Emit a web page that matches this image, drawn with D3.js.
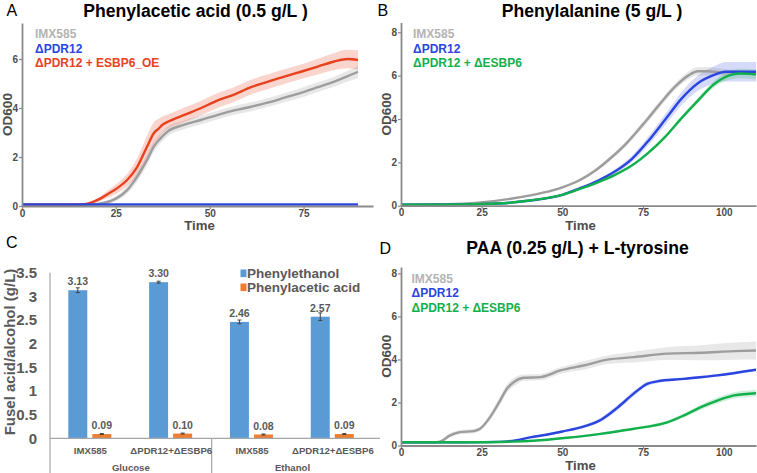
<!DOCTYPE html>
<html><head><meta charset="utf-8">
<script src="https://cdn.jsdelivr.net/npm/d3@7"></script>
<style>
body{margin:0;background:#fff}
svg{display:block}
text{font-family:"Liberation Sans",Arial,Helvetica,sans-serif}
</style>
</head><body>
<svg id="chart" width="757" height="473"></svg>
<script>
// ---------- Panel A: Phenylacetic acid (0.5 g/L) ----------
const aTimeIMX = [0,10,18,21,25,28,30.7,33.3,35.1,36.9,38.7,43.1,47.6,52,56.5,61,65.4,69.9,74.3,78.8,83.2,86.8,89.5];
const aIMX     = [0.05,0.05,0.06,0.1,0.3,0.65,1.2,1.88,2.42,2.76,3.03,3.31,3.51,3.71,3.9,4.05,4.22,4.42,4.62,4.85,5.08,5.3,5.48];
const aIMXsd   = [0.03,0.03,0.03,0.05,0.1,0.15,0.2,0.22,0.22,0.2,0.2,0.18,0.18,0.18,0.18,0.18,0.18,0.18,0.2,0.2,0.2,0.22,0.25];
const aTimePDR = [0,30,60,89.5];
const aPDR     = [0.06,0.06,0.06,0.06];
const aPDRsd   = [0.02,0.02,0.02,0.02];
const aTimeOE  = [0,10,16,18,21,23,25.3,28,30.7,33.3,35.1,36.5,37.3,39,43.1,47.6,52,56.5,61,65.4,69.9,74.3,78.8,83.2,86.8,89.5];
const aOE      = [0.05,0.05,0.06,0.12,0.31,0.5,0.72,1.06,1.6,2.42,2.97,3.17,3.3,3.45,3.71,3.99,4.3,4.55,4.85,5.07,5.28,5.48,5.69,5.9,6.0,5.96];
const aOEsd    = [0.03,0.03,0.03,0.05,0.1,0.15,0.2,0.25,0.35,0.45,0.45,0.4,0.35,0.3,0.3,0.3,0.3,0.3,0.3,0.3,0.3,0.3,0.32,0.35,0.38,0.4];

// ---------- Panel B: Phenylalanine (5 g/L) ----------
const bTimeIMX = [0,14,24,34,44,50,55,60,65,70,75,80,85,89,92,95,100,105,110];
const bIMX     = [0.05,0.07,0.14,0.32,0.6,0.85,1.15,1.6,2.2,2.9,3.75,4.65,5.5,6.0,6.2,6.2,6.15,6.15,6.12];
const bIMXsd   = [0.02,0.02,0.03,0.04,0.05,0.06,0.07,0.08,0.1,0.12,0.14,0.15,0.15,0.18,0.2,0.2,0.15,0.1,0.1];
const bTimePDR = [0,20,30,40,50,55,61,66,71.5,76.7,82,87,92,97,100.5,104,110];
const bPDR     = [0.05,0.06,0.1,0.24,0.5,0.78,1.15,1.55,2.15,3.0,4.0,4.95,5.65,6.03,6.18,6.18,6.18];
const bPDRsd   = [0.02,0.02,0.02,0.03,0.04,0.05,0.07,0.1,0.15,0.2,0.25,0.3,0.35,0.4,0.45,0.45,0.45];
const bTimeDKO = [0,20,30,40,50,55,61,66,71.5,76.7,82,87,92,97,101.5,105,108,110];
const bDKO     = [0.05,0.06,0.1,0.24,0.5,0.75,1.08,1.4,1.85,2.45,3.2,4.05,4.85,5.6,6.0,6.1,6.08,6.05];
const bDKOsd   = [0.02,0.02,0.02,0.03,0.04,0.04,0.05,0.05,0.06,0.07,0.08,0.1,0.12,0.15,0.2,0.22,0.22,0.22];

// ---------- Panel C: fusel acid / alcohol ----------
const cCategories = ["IMX585","ΔPDR12+ΔESBP6","IMX585","ΔPDR12+ΔESBP6"];
const cGroups     = ["Glucose","Ethanol"];
const cSeries     = ["Phenylethanol","Phenylacetic acid"];
const cPhenylethanol    = [3.13,3.30,2.46,2.57];
const cPhenylethanolErr = [0.05,0.02,0.04,0.08];
const cPAA              = [0.09,0.10,0.08,0.09];
const cPAAErr           = [0.01,0.01,0.01,0.01];
const cTickLabels = ["0","0.5","1","1.5","2","2.5","3","3.5"];

// ---------- Panel D: PAA (0.25 g/L) + L-tyrosine ----------
const dTimeIMX = [0,10,12.1,15.2,18.3,22.5,24.5,27.6,30.7,32.8,34.9,38,43.2,49.4,56.6,63.9,72.2,82.5,92.9,103.2,110];
const dIMX     = [0.15,0.15,0.18,0.47,0.62,0.67,0.78,1.32,2.09,2.64,2.94,3.15,3.18,3.49,3.72,3.99,4.11,4.27,4.31,4.39,4.42];
const dIMXsd   = [0.03,0.03,0.05,0.1,0.1,0.1,0.1,0.15,0.2,0.2,0.2,0.15,0.15,0.15,0.2,0.2,0.25,0.3,0.35,0.4,0.42];
const dTimePDR = [0,20,30.7,35.9,40,45,50,57,62,67,72,76.3,79.4,87.7,98,110];
const dPDR     = [0.15,0.15,0.17,0.25,0.38,0.5,0.65,0.9,1.2,1.75,2.4,2.87,2.98,3.1,3.26,3.52];
const dPDRsd   = [0.02,0.02,0.03,0.04,0.05,0.05,0.06,0.08,0.1,0.12,0.12,0.1,0.08,0.06,0.06,0.06];
const dTimeDKO = [0,20,35,41,51.5,61.8,72.2,77.3,82.5,87.7,92.9,98,103.2,110];
const dDKO     = [0.15,0.15,0.18,0.22,0.36,0.54,0.78,0.9,1.08,1.4,1.78,2.09,2.33,2.43];
const dDKOsd   = [0.02,0.02,0.03,0.03,0.04,0.05,0.06,0.07,0.08,0.1,0.12,0.14,0.15,0.15];

const xTicksA = [0,25,50,75];
const xTicksBD = [0,25,50,75,100];
const yTicksA = [0,2,4,6];
const yTicksBD = [0,2,4,6,8];

// ---------- styling ----------
const COL = {gray:"#9d9d9d", grayText:"#b4b4b4", blue:"#2b45df", red:"#e8411e", green:"#12b04c"};
const axisCol = "#8a8a8a";
const svg = d3.select("#chart");

function zip(t, v, sd){ return t.map((d,i)=>({t:d, v:v[i], sd:sd[i]})); }

function linePanel(o){
  const g = svg.append("g");
  const x = d3.scaleLinear().domain(o.xDomain).range(o.xRange);
  const y = d3.scaleLinear().domain(o.yDomain).range(o.yRange);
  o.series.forEach(s=>{
    const data = zip(s.t, s.v, s.sd);
    g.append("path").datum(data)
      .attr("fill", s.band).attr("fill-opacity", s.bandOpacity)
      .attr("d", d3.area().x(d=>x(d.t)).y0(d=>y(Math.max(0,d.v-d.sd))).y1(d=>y(d.v+d.sd)).curve(d3.curveMonotoneX));
  });
  o.series.forEach(s=>{
    const data = zip(s.t, s.v, s.sd);
    g.append("path").datum(data)
      .attr("fill","none").attr("stroke", s.color).attr("stroke-width",2.4)
      .attr("stroke-linejoin","round")
      .attr("d", d3.line().x(d=>x(d.t)).y(d=>y(d.v)).curve(d3.curveMonotoneX));
  });
  const yAx = g.append("g").attr("transform",`translate(${o.xRange[0]},0)`)
    .call(d3.axisLeft(y).tickValues(o.yTicks).tickSize(3).tickSizeOuter(0).tickPadding(1));
  const xAx = g.append("g").attr("transform",`translate(0,${o.yRange[0]})`)
    .call(d3.axisBottom(x).tickValues(o.xTicks).tickSize(3).tickSizeOuter(0).tickPadding(0.5));
  [yAx,xAx].forEach(a=>{
    a.select(".domain").attr("stroke",axisCol).attr("stroke-width",1.8);
    a.selectAll(".tick line").attr("stroke",axisCol).attr("stroke-width",1.2);
    a.selectAll(".tick text").attr("fill","#4d4d4d").attr("font-size","10px").attr("font-weight","bold").attr("font-family","Liberation Sans, Arial, sans-serif");
  });
  o.legend.forEach((l,i)=>{
    g.append("text").attr("x",o.legendX).attr("y",o.legendY + i*14.7)
      .attr("fill",l.color).attr("font-size","12px").attr("font-weight","bold").text(l.label);
  });
  g.append("text").attr("x",o.titleX).attr("y",o.titleY).attr("text-anchor","middle")
    .attr("font-size","17.6px").attr("font-weight","bold").attr("fill","#000").text(o.title);
  g.append("text").attr("x",o.letterX).attr("y",o.titleY-0.5)
    .attr("font-size","16px").attr("fill","#000").text(o.letter);
  g.append("text").attr("x",(o.xRange[0]+o.xRange[1])/2+2).attr("y",o.yRange[0]+24).attr("text-anchor","middle")
    .attr("font-size","13.2px").attr("font-weight","bold").attr("fill","#4d4d4d").text("Time");
  g.append("text").attr("transform",`translate(${o.xRange[0]-10},${(o.yRange[0]+o.yRange[1])/2}) rotate(-90)`)
    .attr("text-anchor","middle").attr("font-size","13.5px").attr("font-weight","bold").attr("fill","#4d4d4d").text("OD600");
}

const legendBD = [
  {label:"IMX585", color:COL.grayText},
  {label:"ΔPDR12", color:COL.blue},
  {label:"ΔPDR12 + ΔESBP6", color:COL.green}
];

linePanel({
  xDomain:[0,93.5], xRange:[22,373], yDomain:[0,7.47], yRange:[206,23],
  xTicks:xTicksA, yTicks:yTicksA,
  series:[
    {t:aTimeIMX, v:aIMX, sd:aIMXsd, color:COL.gray, band:"#bdbdbd", bandOpacity:0.35},
    {t:aTimeOE, v:aOE, sd:aOEsd, color:COL.red, band:COL.red, bandOpacity:0.22},
    {t:aTimePDR, v:aPDR, sd:aPDRsd, color:COL.blue, band:COL.blue, bandOpacity:0.2}
  ],
  legend:[{label:"IMX585",color:COL.grayText},{label:"ΔPDR12",color:COL.blue},{label:"ΔPDR12 + ESBP6_OE",color:COL.red}],
  legendX:35, legendY:37.8,
  title:"Phenylacetic acid (0.5 g/L )", titleX:195.5, titleY:16.5, letter:"A", letterX:6.5
});

linePanel({
  xDomain:[0,110], xRange:[401,756], yDomain:[0,8.45], yRange:[205.7,22.5],
  xTicks:xTicksBD, yTicks:yTicksBD,
  series:[
    {t:bTimeIMX, v:bIMX, sd:bIMXsd, color:COL.gray, band:"#bdbdbd", bandOpacity:0.35},
    {t:bTimePDR, v:bPDR, sd:bPDRsd, color:COL.blue, band:COL.blue, bandOpacity:0.2},
    {t:bTimeDKO, v:bDKO, sd:bDKOsd, color:COL.green, band:COL.green, bandOpacity:0.2}
  ],
  legend:legendBD, legendX:413, legendY:37.8,
  title:"Phenylalanine (5 g/L )", titleX:592, titleY:16.5, letter:"B", letterX:377.5
});

linePanel({
  xDomain:[0,110], xRange:[401,756], yDomain:[0,8.3], yRange:[445.5,267],
  xTicks:xTicksBD, yTicks:yTicksBD,
  series:[
    {t:dTimeIMX, v:dIMX, sd:dIMXsd, color:COL.gray, band:"#bdbdbd", bandOpacity:0.35},
    {t:dTimePDR, v:dPDR, sd:dPDRsd, color:COL.blue, band:COL.blue, bandOpacity:0.2},
    {t:dTimeDKO, v:dDKO, sd:dDKOsd, color:COL.green, band:COL.green, bandOpacity:0.2}
  ],
  legend:legendBD, legendX:411.5, legendY:282.5,
  title:"PAA (0.25 g/L) + L-tyrosine", titleX:577.5, titleY:254.3, letter:"D", letterX:379.5
});

// ---------- Panel C drawing ----------
(function(){
  const g = svg.append("g");
  const cText = "#595959";
  const y = d3.scaleLinear().domain([0,3.5]).range([438.3,272.7]);
  const x = d3.scaleBand().domain(d3.range(cCategories.length)).range([50,373.3]);
  const sub = d3.scaleBand().domain(cSeries).range([18.3,61.3]).paddingInner(0.21);
  const colors = {"Phenylethanol":"#5b9bd5","Phenylacetic acid":"#ed7d31"};
  const vals = {"Phenylethanol":cPhenylethanol,"Phenylacetic acid":cPAA};
  const errs = {"Phenylethanol":cPhenylethanolErr,"Phenylacetic acid":cPAAErr};

  cTickLabels.forEach(l=>{
    g.append("text").attr("x",37).attr("y",y(+l)+5.2).attr("text-anchor","end")
      .attr("font-size","15px").attr("font-weight","bold").attr("fill",cText).text(l);
  });
  g.append("text").attr("transform","translate(15,352) rotate(-90)").attr("text-anchor","middle")
    .attr("font-size","15px").attr("font-weight","bold").attr("fill",cText).text("Fusel acid/alcohol (g/L)");

  cSeries.forEach(s=>{
    cCategories.forEach((c,i)=>{
      const bx = x(i)+sub(s), bw = sub.bandwidth(), v = vals[s][i], e = errs[s][i];
      g.append("rect").attr("x",bx).attr("y",y(v)).attr("width",bw).attr("height",y(0)-y(v)).attr("fill",colors[s]);
      const cx = bx+bw/2;
      g.append("line").attr("x1",cx).attr("x2",cx).attr("y1",y(v-e)).attr("y2",y(v+e)).attr("stroke","#444").attr("stroke-width",1);
      [v-e,v+e].forEach(ev=>g.append("line").attr("x1",cx-2).attr("x2",cx+2).attr("y1",y(ev)).attr("y2",y(ev)).attr("stroke","#444").attr("stroke-width",1));
      g.append("text").attr("x",cx).attr("y",y(v)-5).attr("text-anchor","middle")
        .attr("font-size","10.5px").attr("font-weight","bold").attr("fill",cText).text(d3.format(".2f")(v));
    });
  });

  const lc = "#a6a6a6";
  g.append("line").attr("x1",50).attr("x2",50).attr("y1",y(3.5)).attr("y2",473).attr("stroke",lc).attr("stroke-width",1.2);
  g.append("line").attr("x1",50).attr("x2",380).attr("y1",y(0)).attr("y2",y(0)).attr("stroke",lc).attr("stroke-width",1.2);
  const mid = x(2);
  g.append("line").attr("x1",mid).attr("x2",mid).attr("y1",y(0)).attr("y2",473).attr("stroke",lc).attr("stroke-width",1.2);

  cCategories.forEach((c,i)=>{
    g.append("text").attr("x",x(i)+x.bandwidth()/2).attr("y",454).attr("text-anchor","middle")
      .attr("font-size","9.6px").attr("font-weight","bold").attr("fill",cText).text(c);
  });
  cGroups.forEach((gName,k)=>{
    const x0 = x(k*2), x1 = x(k*2+1)+x.bandwidth();
    g.append("text").attr("x",(x0+x1)/2).attr("y",470.5).attr("text-anchor","middle")
      .attr("font-size","9.6px").attr("font-weight","bold").attr("fill",cText).text(gName);
  });

  cSeries.forEach((s,i)=>{
    const cy = 273.3 + i*14;
    g.append("rect").attr("x",240.5).attr("y",cy-3.8).attr("width",6).attr("height",7.6).attr("fill",colors[s]);
    g.append("text").attr("x",247).attr("y",cy+4.8).attr("font-size","13.5px").attr("font-weight","bold").attr("fill",cText).text(s);
  });

  g.append("text").attr("x",6).attr("y",248).attr("font-size","16px").attr("fill","#000").text("C");
})();
</script>
</body></html>
